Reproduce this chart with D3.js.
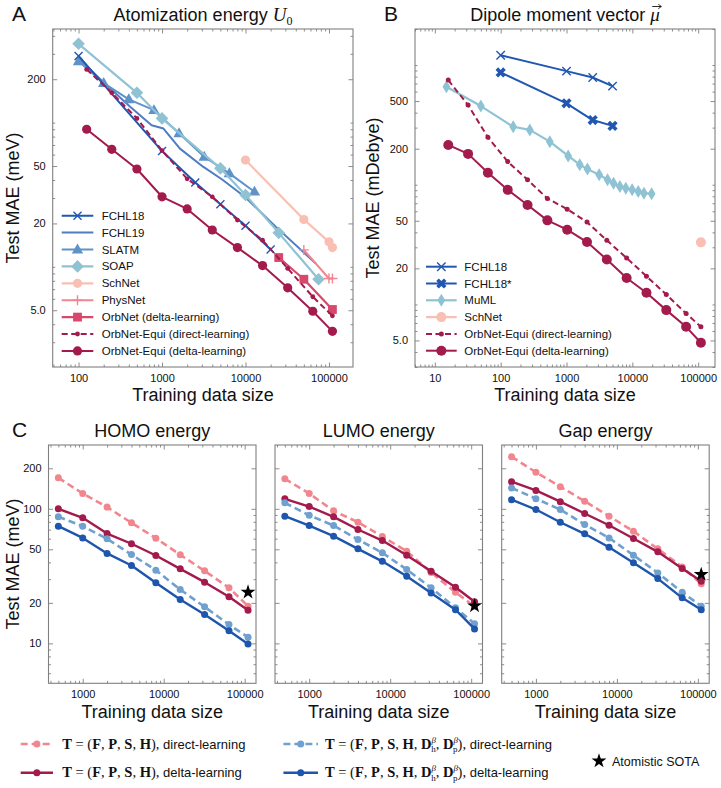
<!DOCTYPE html>
<html><head><meta charset="utf-8">
<script src="https://cdn.jsdelivr.net/npm/d3@7"></script>
<style>
body{margin:0;background:#fff}
text{font-family:"Liberation Sans",Arial,Helvetica,sans-serif;fill:#111}
</style>
</head><body>
<svg id="c" width="721" height="788" style="background:#fff"></svg>
<script>
// ---------------- DATA ----------------
// Panel A: Atomization energy U0 (meV)
const aFCHL18X = [100, 1000, 2500, 5000, 10000, 20000];
const aFCHL18Y = [290, 63.5, 38.5, 27.2, 19.3, 13.2];
const aFCHL19X = [100, 200, 415, 750, 1040, 1640, 3100, 5200, 9800, 23000, 70000];
const aFCHL19Y = [280, 190, 129, 96, 91, 66, 49.5, 40.5, 30.6, 19, 10.5];
const aSLATMX = [100, 200, 400, 800, 1600, 3200, 6400, 12800];
const aSLATMY = [266, 188, 145, 122, 84.4, 58, 44.5, 33.2];
const aSOAPX = [100, 500, 1000, 5000, 10000, 25000, 75000];
const aSOAPY = [352, 161, 107, 48.2, 31.5, 17.2, 8.2];
const aSchNetX = [10000, 50000, 100000, 110000];
const aSchNetY = [55, 21.3, 14.9, 13.6];
const aPhysNetX = [50000, 100000, 110000];
const aPhysNetY = [13.1, 8.3, 8.3];
const aOrbNetX = [25000, 50000, 110000];
const aOrbNetY = [11.6, 8.2, 5.06];
const aEquiX = [125, 250, 500, 1000, 2000, 4000, 8000, 16000, 32000, 64000, 110000];
const aEquiDirectY = [234, 161, 107, 64, 40.8, 30.6, 21.1, 15.3, 9.75, 6.2, 4.57];
const aEquiDeltaY = [90, 65.3, 47.7, 30.6, 25.2, 18, 13.6, 10.2, 7.15, 4.92, 3.57];

// Panel B: Dipole moment vector (mDebye)
const bFCHL18X = [100, 1000, 2500, 5000];
const bFCHL18Y = [1208, 889, 787, 667];
const bFCHL18sX = [100, 1000, 2500, 5000];
const bFCHL18sY = [867, 479, 347, 310];
const bMuMLX = [15, 50, 155, 277, 558, 1060, 1590, 2080, 3135, 4200, 5180, 6460, 7950, 9930, 12300, 15000, 19600];
const bMuMLY = [658, 454, 305, 287, 229, 174, 147, 135, 121, 110, 103, 96.7, 93.5, 90.6, 87.8, 85, 84];
const bSchNetX = [110000];
const bSchNetY = [33];
const bEquiX = [16, 32, 64, 128, 256, 512, 1024, 2048, 4096, 8192, 16384, 32768, 65536, 110000];
const bEquiDirectY = [748, 463, 249, 156, 110, 76.7, 62.5, 48.7, 34.3, 24.4, 17.2, 12.1, 8.4, 6.5];
const bEquiDeltaY = [215, 181, 126, 90.6, 67.6, 50.4, 42.1, 33.2, 23.7, 16.6, 12.5, 8.96, 6.5, 4.78];

// Panel C: HOMO / LUMO / Gap (meV)
const cX = [500, 1000, 2000, 4000, 8000, 16000, 32000, 64000, 110000];
const cTitles = ["HOMO energy", "LUMO energy", "Gap energy"];
const cDirect4 = [
  [170, 130, 103, 78.7, 60.5, 45.5, 34.6, 25.9, 18.9],
  [167, 130, 96.6, 79.5, 62.2, 48.4, 33.6, 24, 18.8],
  [244, 187, 146, 114, 88.1, 68.1, 50.4, 37, 27.7]];
const cDelta4 = [
  [100, 85.8, 65.5, 55, 45, 35.8, 28.5, 22.2, 17.6],
  [118.7, 104, 87.2, 70.2, 58.1, 45.2, 34.4, 26.1, 20.4],
  [159, 137, 113, 92.3, 75.5, 60.1, 47.9, 36, 29.0]];
const cDirect6 = [
  [87.2, 74.3, 59.8, 45.7, 35, 25.1, 18.7, 13.8, 11.1],
  [110.8, 89.6, 75.1, 59.2, 47.1, 35.4, 25.9, 18.4, 14.0],
  [143, 119, 98.8, 76.4, 60.8, 45.2, 33.4, 24, 18.9]];
const cDelta6 = [
  [74.3, 60.8, 46.6, 37.9, 28.2, 21.2, 16.4, 12.4, 9.9],
  [88.1, 75.1, 62.6, 50.4, 40.7, 31.5, 23.7, 17.8, 12.8],
  [117, 98.8, 79.5, 65.2, 51.8, 39.7, 30.3, 21.8, 17.8]];
const cSotaX = 110000;
const cSotaY = [24.0, 19.0, 32.5];

// Tick labels
const aXTicks = [100, 1000, 10000, 100000];
const aYTicks = [5, 20, 50, 200];
const bXTicks = [10, 100, 1000, 10000, 100000];
const bYTicks = [5, 20, 50, 200, 500];
const cXTicks = [1000, 10000, 100000];
const cYTicks = [10, 20, 50, 100, 200];

// ---------------- STYLE ----------------
const C = {
  fchl18: "#2157b0", fchl19: "#4f7dc3", slatm: "#6092ca", soap: "#8fc2d3",
  schnet: "#f9bfb3", physnet: "#f2858f", orbnet: "#d8476c", equi: "#a31a4d",
  pink: "#f2868f", red: "#a31a4d", lblue: "#6fa0d0", dblue: "#1f56ad"
};
const FRAME = "#808080";
const SERIF = '"Liberation Serif","DejaVu Serif",serif';
const svg = d3.select("#c");
svg.append("rect").attr("width", 721).attr("height", 788).attr("fill", "#fff");

function minorVals(dom, major) {
  const out = [];
  const lo = Math.floor(Math.log10(dom[0])), hi = Math.ceil(Math.log10(dom[1]));
  for (let n = lo; n <= hi; n++) for (let k = 1; k <= 9; k++) {
    const v = +(k * Math.pow(10, n)).toPrecision(6);
    if (v >= dom[0] && v <= dom[1] && !major.some(m => Math.abs(m - v) / v < 1e-6)) out.push(v);
  }
  return out;
}

function makePanel(o) {
  const g = svg.append("g");
  const x = d3.scaleLog().domain(o.xd).range([o.l, o.r]);
  const y = d3.scaleLog().domain(o.yd).range([o.b, o.t]);
  const fmtY = v => (v === 5 ? "5.0" : String(v));
  const style = sel => {
    sel.select(".domain").remove();
    sel.selectAll("line").attr("stroke", FRAME).attr("stroke-width", 0.9);
    sel.selectAll("text").attr("font-size", 11).attr("fill", "#111")
      .attr("font-family", '"Liberation Sans",Arial,sans-serif');
  };
  const xMin = minorVals(o.xd, o.xt), yMin = minorVals(o.yd, o.yt);
  g.append("g").attr("transform", `translate(0,${o.b})`)
    .call(d3.axisBottom(x).tickValues(o.xt).tickSize(-4.5).tickPadding(7).tickFormat(o.xl ? d3.format("d") : ""))
    .call(style);
  g.append("g").attr("transform", `translate(0,${o.b})`)
    .call(d3.axisBottom(x).tickValues(xMin).tickSize(-2.5).tickFormat("")).call(style);
  g.append("g").attr("transform", `translate(0,${o.t})`)
    .call(d3.axisTop(x).tickValues(o.xt).tickSize(-4.5).tickFormat("")).call(style);
  g.append("g").attr("transform", `translate(0,${o.t})`)
    .call(d3.axisTop(x).tickValues(xMin).tickSize(-2.5).tickFormat("")).call(style);
  g.append("g").attr("transform", `translate(${o.l},0)`)
    .call(d3.axisLeft(y).tickValues(o.yt).tickSize(-4.5).tickPadding(7).tickFormat(o.yl ? fmtY : ""))
    .call(style);
  g.append("g").attr("transform", `translate(${o.l},0)`)
    .call(d3.axisLeft(y).tickValues(yMin).tickSize(-2.5).tickFormat("")).call(style);
  g.append("g").attr("transform", `translate(${o.r},0)`)
    .call(d3.axisRight(y).tickValues(o.yt).tickSize(-4.5).tickFormat("")).call(style);
  g.append("g").attr("transform", `translate(${o.r},0)`)
    .call(d3.axisRight(y).tickValues(yMin).tickSize(-2.5).tickFormat("")).call(style);
  g.append("rect").attr("x", o.l).attr("y", o.t).attr("width", o.r - o.l).attr("height", o.b - o.t)
    .attr("fill", "none").attr("stroke", FRAME).attr("stroke-width", 1.1);
  const clipId = "clip" + Math.round(o.l) + "_" + Math.round(o.t);
  svg.append("clipPath").attr("id", clipId).append("rect")
    .attr("x", o.l).attr("y", o.t).attr("width", o.r - o.l).attr("height", o.b - o.t);
  const plot = g.append("g").attr("clip-path", `url(#${clipId})`);
  return { g, plot, x, y };
}

function marker(g, type, cx, cy, color, s) {
  switch (type) {
    case "circle": case "dot":
      g.append("circle").attr("cx", cx).attr("cy", cy).attr("r", s).attr("fill", color); break;
    case "square":
      g.append("rect").attr("x", cx - s).attr("y", cy - s).attr("width", 2 * s).attr("height", 2 * s).attr("fill", color); break;
    case "diamond":
      g.append("path").attr("d", `M${cx},${cy - s}L${cx + s},${cy}L${cx},${cy + s}L${cx - s},${cy}Z`).attr("fill", color); break;
    case "thindiamond":
      g.append("path").attr("d", `M${cx},${cy - s}L${cx + 0.6 * s},${cy}L${cx},${cy + s}L${cx - 0.6 * s},${cy}Z`).attr("fill", color); break;
    case "tri":
      g.append("path").attr("d", `M${cx},${cy - s}L${cx + 0.95 * s},${cy + 0.65 * s}L${cx - 0.95 * s},${cy + 0.65 * s}Z`).attr("fill", color); break;
    case "x":
      g.append("path").attr("d", `M${cx - s},${cy - s}L${cx + s},${cy + s}M${cx - s},${cy + s}L${cx + s},${cy - s}`)
        .attr("stroke", color).attr("stroke-width", 1.4).attr("fill", "none"); break;
    case "plus":
      g.append("path").attr("d", `M${cx - s},${cy}L${cx + s},${cy}M${cx},${cy - s}L${cx},${cy + s}`)
        .attr("stroke", color).attr("stroke-width", 1.4).attr("fill", "none"); break;
    case "X":
      g.append("path").attr("d", d3.symbol(d3.symbolCross, s * s * 2.6)())
        .attr("transform", `translate(${cx},${cy}) rotate(45)`).attr("fill", color); break;
    case "star":
      g.append("path").attr("d", d3.symbol(d3.symbolStar, s * s * 2.2)())
        .attr("transform", `translate(${cx},${cy})`).attr("fill", color); break;
  }
}

function series(P, xs, ys, st) {
  const line = d3.line().x((d, i) => P.x(xs[i])).y(d => P.y(d));
  P.plot.append("path").datum(ys).attr("d", line).attr("fill", "none")
    .attr("stroke", st.color).attr("stroke-width", st.lw || 2)
    .attr("stroke-dasharray", st.dash || null).attr("stroke-linejoin", "round");
  if (st.marker) ys.forEach((v, i) => marker(P.plot, st.marker, P.x(xs[i]), P.y(v), st.mcolor || st.color, st.ms));
}

function legend(g, x0, x1, tx, y0, dy, items, fs) {
  items.forEach((it, i) => {
    const yy = y0 + i * dy;
    g.append("line").attr("x1", x0).attr("x2", x1).attr("y1", yy).attr("y2", yy)
      .attr("stroke", it.color).attr("stroke-width", it.lw || 2).attr("stroke-dasharray", it.dash || null);
    if (it.marker) marker(g, it.marker, (x0 + x1) / 2, yy, it.color, it.ms);
    g.append("text").attr("x", tx).attr("y", yy + 4).attr("font-size", fs).text(it.name);
  });
}

function label(txt, x, y, size, rot, anchor) {
  const t = svg.append("text").attr("font-size", size).attr("text-anchor", anchor || "middle").text(txt);
  if (rot) t.attr("transform", `translate(${x},${y}) rotate(-90)`); else t.attr("x", x).attr("y", y);
  return t;
}

// ---------------- PANEL A ----------------
const A = makePanel({ l: 52.7, r: 353, t: 29, b: 367, xd: [49, 194000], yd: [2.02, 446], xt: aXTicks, yt: aYTicks, xl: true, yl: true });
const aStyles = {
  fchl18: { color: C.fchl18, marker: "x", ms: 4, lw: 2 },
  fchl19: { color: C.fchl19, lw: 2 },
  slatm: { color: C.slatm, marker: "tri", ms: 6, lw: 2 },
  soap: { color: C.soap, marker: "diamond", ms: 6.3, lw: 2.2 },
  schnet: { color: C.schnet, marker: "circle", ms: 4.6, lw: 2.2 },
  physnet: { color: C.physnet, marker: "plus", ms: 5, lw: 2 },
  orbnet: { color: C.orbnet, marker: "square", ms: 4.4, lw: 2.2 },
  direct: { color: C.equi, marker: "dot", ms: 2.4, lw: 2, dash: "6,3.5" },
  delta: { color: C.equi, marker: "circle", ms: 4.6, lw: 2 }
};
series(A, aFCHL19X, aFCHL19Y, aStyles.fchl19);
series(A, aSLATMX, aSLATMY, aStyles.slatm);
series(A, aSOAPX, aSOAPY, aStyles.soap);
series(A, aFCHL18X, aFCHL18Y, aStyles.fchl18);
series(A, aSchNetX, aSchNetY, aStyles.schnet);
series(A, aPhysNetX, aPhysNetY, aStyles.physnet);
series(A, aOrbNetX, aOrbNetY, aStyles.orbnet);
series(A, aEquiX, aEquiDirectY, aStyles.direct);
series(A, aEquiX, aEquiDeltaY, aStyles.delta);
legend(A.g, 61.7, 93.3, 101.7, 215.7, 16.9, [
  Object.assign({ name: "FCHL18" }, aStyles.fchl18),
  Object.assign({ name: "FCHL19" }, aStyles.fchl19),
  Object.assign({ name: "SLATM" }, aStyles.slatm),
  Object.assign({ name: "SOAP" }, aStyles.soap),
  Object.assign({ name: "SchNet" }, aStyles.schnet),
  Object.assign({ name: "PhysNet" }, aStyles.physnet),
  Object.assign({ name: "OrbNet (delta-learning)" }, aStyles.orbnet),
  Object.assign({ name: "OrbNet-Equi (direct-learning)" }, aStyles.direct),
  Object.assign({ name: "OrbNet-Equi (delta-learning)" }, aStyles.delta)
], 11.5);
{
  const t = svg.append("text").attr("x", 203).attr("y", 21).attr("font-size", 18).attr("text-anchor", "middle");
  t.append("tspan").text("Atomization energy ");
  t.append("tspan").text("U").attr("font-family", SERIF).attr("font-style", "italic").attr("font-size", 19);
  t.append("tspan").text("0").attr("font-family", SERIF).attr("font-size", 12).attr("dy", 4);
}
label("A", 12, 21, 21, false, "start");
label("Test MAE (meV)", 19, 198, 18, true);
label("Training data size", 203, 400.5, 18);

// ---------------- PANEL B ----------------
const B = makePanel({ l: 415, r: 715, t: 29, b: 367, xd: [5, 180000], yd: [3, 2000], xt: bXTicks, yt: bYTicks, xl: true, yl: true });
const bStyles = {
  fchl18: { color: C.fchl18, marker: "x", ms: 4.2, lw: 2 },
  fchl18s: { color: C.fchl18, marker: "X", ms: 5, lw: 2 },
  muml: { color: C.soap, marker: "thindiamond", ms: 6.5, lw: 2.2 },
  schnet: { color: C.schnet, marker: "circle", ms: 5, lw: 2.2 },
  direct: { color: C.equi, marker: "dot", ms: 2.5, lw: 2, dash: "6,3.5" },
  delta: { color: C.equi, marker: "circle", ms: 5, lw: 2 }
};
series(B, bFCHL18X, bFCHL18Y, bStyles.fchl18);
series(B, bFCHL18sX, bFCHL18sY, bStyles.fchl18s);
series(B, bMuMLX, bMuMLY, bStyles.muml);
series(B, bSchNetX, bSchNetY, bStyles.schnet);
series(B, bEquiX, bEquiDirectY, bStyles.direct);
series(B, bEquiX, bEquiDeltaY, bStyles.delta);
legend(B.g, 426, 456.7, 464.3, 266.7, 16.8, [
  Object.assign({ name: "FCHL18" }, bStyles.fchl18),
  Object.assign({ name: "FCHL18*" }, bStyles.fchl18s),
  Object.assign({ name: "MuML" }, bStyles.muml),
  Object.assign({ name: "SchNet" }, bStyles.schnet),
  Object.assign({ name: "OrbNet-Equi (direct-learning)" }, bStyles.direct),
  Object.assign({ name: "OrbNet-Equi (delta-learning)" }, bStyles.delta)
], 11.5);
{
  const t = svg.append("text").attr("x", 565).attr("y", 21).attr("font-size", 18).attr("text-anchor", "middle");
  t.append("tspan").text("Dipole moment vector ");
  t.append("tspan").text("\u03BC").attr("font-family", SERIF).attr("font-style", "italic").attr("font-size", 19);
  const n = t.node().getNumberOfChars();
  const x0 = t.node().getStartPositionOfChar(n - 1).x, x1 = t.node().getEndPositionOfChar(n - 1).x;
  const ay = 6.5, ax0 = x0 + 2, ax1 = x1 + 1.5;
  svg.append("path").attr("d", `M${ax0},${ay}L${ax1},${ay}M${ax1 - 3},${ay - 2.2}L${ax1},${ay}L${ax1 - 3},${ay + 2.2}`)
    .attr("stroke", "#111").attr("stroke-width", 0.9).attr("fill", "none");
}
label("B", 384, 21, 21, false, "start");
label("Test MAE (mDebye)", 379, 198, 18, true);
label("Training data size", 565, 400.5, 18);

// ---------------- PANEL C ----------------
const cLefts = [48.5, 275, 501.7];
const cW = 207.5;
const cStyles = {
  d4: { color: C.pink, marker: "circle", ms: 3.5, lw: 2.6, dash: "7,4" },
  l4: { color: C.red, marker: "circle", ms: 3.5, lw: 2.4 },
  d6: { color: C.lblue, marker: "circle", ms: 3.5, lw: 2.6, dash: "7,4" },
  l6: { color: C.dblue, marker: "circle", ms: 3.5, lw: 2.4 }
};
cTitles.forEach((title, k) => {
  const l = cLefts[k];
  const P = makePanel({ l: l, r: l + cW, t: 445, b: 683.3, xd: [378, 138000], yd: [5.05, 298], xt: cXTicks, yt: cYTicks, xl: true, yl: k === 0 });
  series(P, cX, cDirect4[k], cStyles.d4);
  series(P, cX, cDelta4[k], cStyles.l4);
  series(P, cX, cDirect6[k], cStyles.d6);
  series(P, cX, cDelta6[k], cStyles.l6);
  marker(P.plot, "star", P.x(cSotaX), P.y(cSotaY[k]), "#000", 5.6);
  label(title, l + cW / 2, 436.5, 18);
  label("Training data size", l + cW / 2, 717.5, 18);
});
label("C", 12, 437, 21, false, "start");
label("Test MAE (meV)", 19, 564, 18, true);

// C legend
function mathLegend(x, y, withD, suffix) {
  const t = svg.append("text").attr("x", x).attr("y", y).attr("font-size", 13);
  let pendingDy = null;
  const MF = 14.5;
  const add = (s, o = {}) => {
    const ts = t.append("tspan").text(s).attr("font-family", o.sans ? '"Liberation Sans",Arial,sans-serif' : SERIF);
    if (o.b) ts.attr("font-weight", "bold");
    if (o.fs) ts.attr("font-size", o.fs);
    if (o.i) ts.attr("font-style", "italic");
    if (o.dx != null) ts.attr("dx", o.dx);
    let dy = o.dy != null ? o.dy : 0;
    if (pendingDy != null) { dy += pendingDy; pendingDy = null; }
    if (dy) ts.attr("dy", dy);
    return ts;
  };
  add("T", { b: 1, fs: MF }); add(" = (", { fs: MF });
  ["F", "P", "S", "H"].forEach((s, i) => { if (i) add(", ", { fs: MF }); add(s, { b: 1, fs: MF }); });
  if (withD) {
    ["h", "p"].forEach(sub => {
      add(", ", { fs: MF }); add("D", { b: 1, fs: MF });
      add("\u03B2", { fs: 9, i: 1, dy: -6 });
      add(sub, { fs: 9, dx: -4.8, dy: 9.5 });
      pendingDy = -3.5;
    });
  }
  add("),", { fs: MF });
  add(" " + suffix, { sans: 1, fs: 13 });
}
const legC = svg.append("g");
[[20.7, 53, 62.2, 744, cStyles.d4, false, "direct-learning"],
 [20.7, 53, 62.2, 772.7, cStyles.l4, false, "delta-learning"],
 [283.4, 318, 325, 744, cStyles.d6, true, "direct-learning"],
 [283.4, 318, 325, 772.7, cStyles.l6, true, "delta-learning"]].forEach(r => {
  legC.append("line").attr("x1", r[0]).attr("x2", r[1]).attr("y1", r[3]).attr("y2", r[3])
    .attr("stroke", r[4].color).attr("stroke-width", r[4].lw).attr("stroke-dasharray", r[4].dash || null);
  marker(legC, "circle", (r[0] + r[1]) / 2, r[3], r[4].color, r[4].ms);
  mathLegend(r[2], r[3] + 4.5, r[5], r[6]);
});
marker(legC, "star", 599, 761, "#000", 5.6);
svg.append("text").attr("x", 612).attr("y", 765.5).attr("font-size", 12.5).text("Atomistic SOTA");
</script>
</body></html>
